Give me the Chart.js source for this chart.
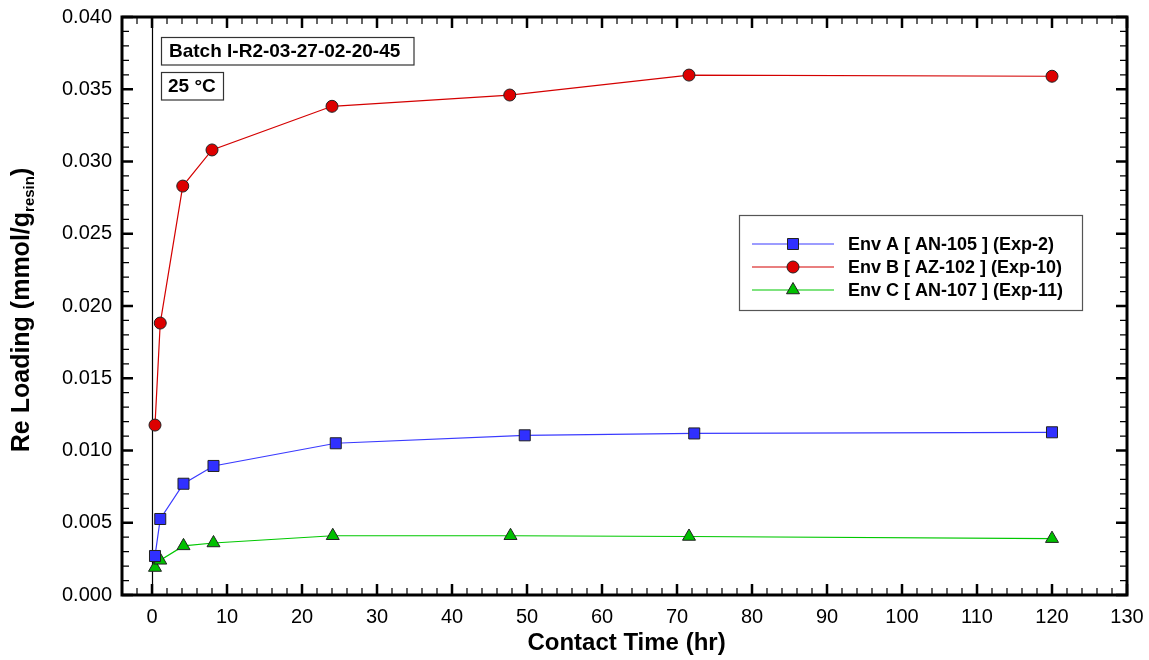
<!DOCTYPE html>
<html>
<head>
<meta charset="utf-8">
<script src="https://cdn.jsdelivr.net/npm/chart.js@4.4.0/dist/chart.umd.min.js"></script>
<style>
  html, body { margin: 0; padding: 0; background: #fff; }
</style>
</head>
<body>
<canvas id="chart" width="1149" height="660"></canvas>
<script>
// Re loading vs contact time, three waste envelopes
const envATime = [0.4, 1.1, 4.2, 8.2, 24.5, 49.7, 72.3, 120];
const envALoading = [0.0027, 0.00526, 0.0077, 0.00893, 0.0105, 0.01105, 0.01118, 0.01126];
const envBTime = [0.4, 1.1, 4.1, 8.0, 24.0, 47.7, 71.6, 120];
const envBLoading = [0.01176, 0.01882, 0.0283, 0.0308, 0.03382, 0.0346, 0.03598, 0.0359];
const envCTime = [0.4, 1.1, 4.2, 8.2, 24.1, 47.8, 71.6, 120];
const envCLoading = [0.0019, 0.0024, 0.0034, 0.0036, 0.0041, 0.0041, 0.00405, 0.0039];

const xTickValues = [0, 10, 20, 30, 40, 50, 60, 70, 80, 90, 100, 110, 120, 130];
const yTickValues = [0, 0.005, 0.01, 0.015, 0.02, 0.025, 0.03, 0.035, 0.04];

const seriesLabels = ['Env A [ AN-105 ] (Exp-2)', 'Env B [ AZ-102 ] (Exp-10)', 'Env C [ AN-107 ] (Exp-11)'];
const batchLabel = 'Batch I-R2-03-27-02-20-45';
const tempLabel = '25 \u00B0C';
const xTitle = 'Contact Time (hr)';
const yTitle = 'Re Loading (mmol/g';
const yTitleSub = 'resin';

const FONT = "'Liberation Sans', Arial, Helvetica, sans-serif";

const toPoints = (xs, ys) => xs.map((t, i) => ({ x: t, y: ys[i] }));

function drawMarker(ctx, style, x, y, fill) {
    ctx.save();
    ctx.fillStyle = fill;
    ctx.strokeStyle = '#222';
    ctx.lineWidth = 1;
    ctx.beginPath();
    if (style === 'rect') {
        ctx.rect(x - 5.5, y - 5.5, 11, 11);
    } else if (style === 'circle') {
        ctx.arc(x, y, 6, 0, Math.PI * 2);
    } else {
        const r = 7.5;
        ctx.moveTo(x, y - r);
        ctx.lineTo(x + r * 0.866, y + r / 2);
        ctx.lineTo(x - r * 0.866, y + r / 2);
        ctx.closePath();
    }
    ctx.fill();
    ctx.stroke();
    ctx.restore();
}

// keep the plot box fixed regardless of tick label overhang
const noOverhang = (s) => {
    s.paddingTop = 0;
    s.paddingBottom = 0;
    s.paddingLeft = 0;
    s.paddingRight = 0;
};

const decorations = {
    id: 'decorations',
    beforeDatasetsDraw(chart) {
        const { ctx, chartArea: a, scales: { x } } = chart;
        // zero-time marker line
        const x0 = Math.round(x.getPixelForValue(0)) + 0.5;
        ctx.save();
        ctx.strokeStyle = '#000';
        ctx.lineWidth = 1.2;
        ctx.beginPath();
        ctx.moveTo(x0, a.top);
        ctx.lineTo(x0, a.bottom);
        ctx.stroke();
        ctx.restore();
    },
    afterDraw(chart) {
        const { ctx, chartArea: a, scales: { x, y } } = chart;
        ctx.save();
        ctx.strokeStyle = '#000';

        // inward ticks on all four sides
        for (let v = -4; v <= 130; v += 2) {
            const px = x.getPixelForValue(v);
            const major = v % 10 === 0;
            ctx.lineWidth = major ? 2.5 : 1.2;
            const len = major ? 11 : 7;
            ctx.beginPath();
            ctx.moveTo(px, a.bottom); ctx.lineTo(px, a.bottom - len);
            ctx.moveTo(px, a.top); ctx.lineTo(px, a.top + len);
            ctx.stroke();
        }
        for (let i = 0; i <= 40; i++) {
            const py = y.getPixelForValue(i * 0.001);
            const major = i % 5 === 0;
            ctx.lineWidth = major ? 2.5 : 1.2;
            const len = major ? 11 : 7;
            ctx.beginPath();
            ctx.moveTo(a.left, py); ctx.lineTo(a.left + len, py);
            ctx.moveTo(a.right, py); ctx.lineTo(a.right - len, py);
            ctx.stroke();
        }

        // frame
        ctx.lineWidth = 3;
        ctx.strokeRect(a.left, a.top, a.right - a.left, a.bottom - a.top);

        // axis titles
        ctx.fillStyle = '#000';
        ctx.font = 'bold 24px ' + FONT;
        ctx.textAlign = 'center';
        ctx.textBaseline = 'middle';
        ctx.fillText(xTitle, (a.left + a.right) / 2 + 2, 643);

        ctx.save();
        ctx.translate(21, 310);
        ctx.rotate(-Math.PI / 2);
        ctx.textAlign = 'left';
        ctx.textBaseline = 'alphabetic';
        ctx.font = 'bold 25px ' + FONT;
        const w1 = ctx.measureText(yTitle).width;
        const wp = ctx.measureText(')').width;
        ctx.font = 'bold 15px ' + FONT;
        const w2 = ctx.measureText(yTitleSub).width;
        const sx = -(w1 + w2 + wp) / 2;
        ctx.font = 'bold 25px ' + FONT;
        ctx.fillText(yTitle, sx, 8);
        ctx.font = 'bold 15px ' + FONT;
        ctx.fillText(yTitleSub, sx + w1, 13);
        ctx.font = 'bold 25px ' + FONT;
        ctx.fillText(')', sx + w1 + w2, 8);
        ctx.restore();

        // batch and temperature boxes
        ctx.lineWidth = 1.2;
        ctx.strokeStyle = '#333';
        ctx.fillStyle = '#fff';
        ctx.fillRect(161.5, 37.5, 252.5, 27.5);
        ctx.strokeRect(161.5, 37.5, 252.5, 27.5);
        ctx.fillRect(161.5, 72.5, 62, 27.5);
        ctx.strokeRect(161.5, 72.5, 62, 27.5);
        ctx.fillStyle = '#000';
        ctx.font = 'bold 19px ' + FONT;
        ctx.textAlign = 'left';
        ctx.textBaseline = 'middle';
        ctx.fillText(batchLabel, 169, 52);
        ctx.fillText(tempLabel, 168, 87);

        // legend
        ctx.fillStyle = '#fff';
        ctx.fillRect(739.5, 215.5, 343, 95);
        ctx.strokeStyle = '#555';
        ctx.strokeRect(739.5, 215.5, 343, 95);
        chart.data.datasets.forEach((ds, i) => {
            const ly = 244 + i * 23;
            ctx.strokeStyle = ds.borderColor;
            ctx.lineWidth = 1.2;
            ctx.beginPath();
            ctx.moveTo(752, ly);
            ctx.lineTo(834, ly);
            ctx.stroke();
            drawMarker(ctx, ds.pointStyle, 793, ly, ds.pointBackgroundColor);
            ctx.fillStyle = '#000';
            ctx.font = 'bold 18px ' + FONT;
            ctx.fillText(ds.label, 848, ly + 1);
        });
        ctx.restore();
    }
};

const mkSet = (label, data, line, fill, style, radius) => ({
    label,
    data,
    showLine: true,
    borderColor: line,
    borderWidth: 1.2,
    pointStyle: style,
    pointRadius: radius,
    pointHoverRadius: radius,
    pointBackgroundColor: fill,
    pointBorderColor: '#222',
    pointBorderWidth: 1
});

new Chart(document.getElementById('chart'), {
    type: 'scatter',
    data: {
        datasets: [
            mkSet(seriesLabels[0], toPoints(envATime, envALoading), '#3a3aff', '#3030ff', 'rect', 7.8),
            mkSet(seriesLabels[1], toPoints(envBTime, envBLoading), '#d40000', '#dd0000', 'circle', 6),
            mkSet(seriesLabels[2], toPoints(envCTime, envCLoading), '#00c800', '#00c000', 'triangle', 7.5)
        ]
    },
    options: {
        responsive: false,
        animation: false,
        layout: { padding: { left: 0, right: 22, top: 17, bottom: 0 } },
        plugins: { legend: { display: false }, tooltip: { enabled: false } },
        scales: {
            x: {
                type: 'linear',
                min: -4,
                max: 130,
                afterFit: (s) => { s.height = 65; noOverhang(s); },
                afterBuildTicks: (s) => { s.ticks = xTickValues.map((v) => ({ value: v })); },
                grid: { display: false, drawTicks: false },
                border: { display: false },
                ticks: {
                    autoSkip: false,
                    padding: 10,
                    color: '#000',
                    font: { family: FONT, size: 20 },
                    maxRotation: 0,
                    callback: (v) => String(v)
                }
            },
            y: {
                type: 'linear',
                min: 0,
                max: 0.04,
                afterFit: (s) => { s.width = 122; noOverhang(s); },
                afterBuildTicks: (s) => { s.ticks = yTickValues.map((v) => ({ value: v })); },
                grid: { display: false, drawTicks: false },
                border: { display: false },
                ticks: {
                    autoSkip: false,
                    padding: 10,
                    color: '#000',
                    font: { family: FONT, size: 20 },
                    callback: (v) => Number(v).toFixed(3)
                }
            }
        }
    },
    plugins: [decorations]
});
</script>
</body>
</html>
